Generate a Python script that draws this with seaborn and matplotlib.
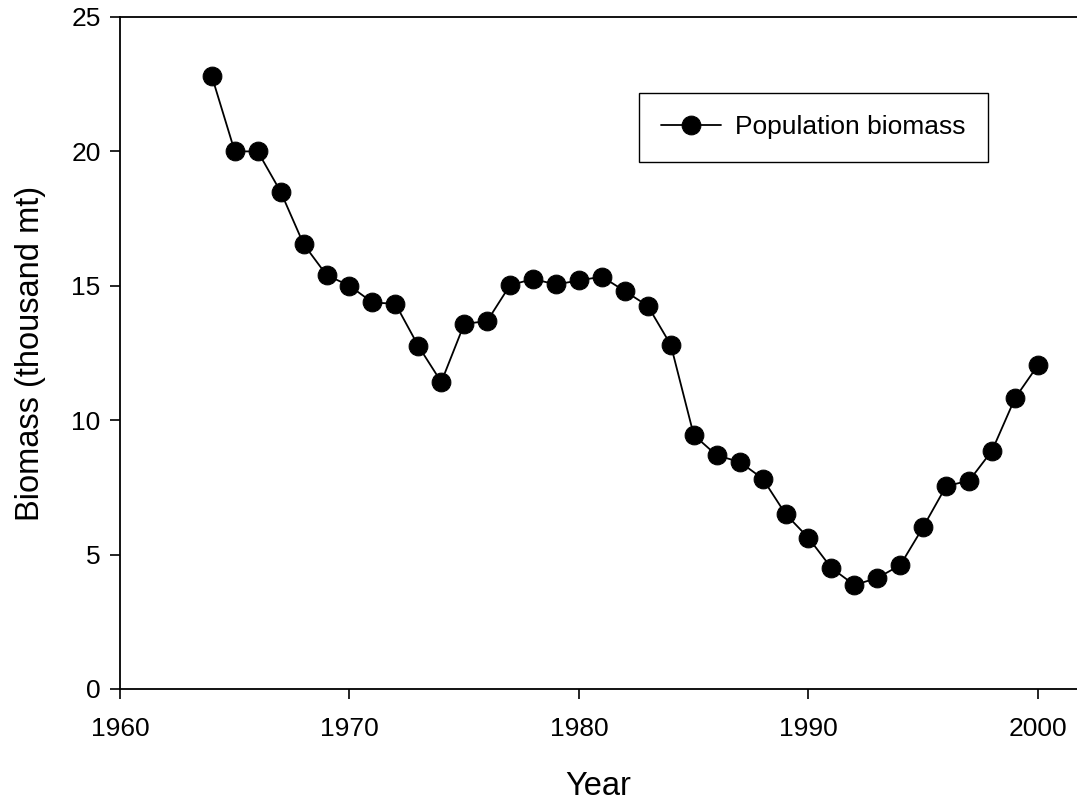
import matplotlib
matplotlib.use("Agg")
import matplotlib.pyplot as plt
import pandas as pd
import seaborn as sns

# --- data ---
years = list(range(1964, 2001))
biomass = [
    22.8, 20.0, 20.0, 18.5, 16.55, 15.4, 15.0, 14.38, 14.33, 12.76,
    11.42, 13.58, 13.69, 15.03, 15.25, 15.05, 15.2, 15.34, 14.8, 14.25,
    12.8, 9.45, 8.69, 8.45, 7.83, 6.51, 5.62, 4.5, 3.87, 4.13,
    4.61, 6.03, 7.55, 7.75, 8.87, 10.82, 12.05,
]
series_name = "Population biomass"

df = pd.DataFrame({"Year": years, "Biomass": biomass, "series": series_name})

sns.set_theme(style="ticks")
plt.rcParams["font.family"] = ["Liberation Sans", "DejaVu Sans"]
plt.rcParams["text.color"] = "black"
plt.rcParams["axes.labelcolor"] = "black"

fig = plt.figure(figsize=(10.77, 8.02), dpi=100)
ax = fig.add_axes([120 / 1077, 113 / 802, 957 / 1077, 672 / 802])

sns.lineplot(
    data=df, x="Year", y="Biomass", hue="series", palette=["black"],
    marker="o", markersize=13.5, markeredgecolor="black", linewidth=1.3,
    ax=ax, legend=False,
)

# right spine falls outside the picture in the original, so run the axis off the edge
ax.set_xlim(1960, 1960 + 957 / 22.95)
ax.set_ylim(0, 25)
ax.set_xticks([1960, 1970, 1980, 1990, 2000])
ax.set_yticks([0, 5, 10, 15, 20, 25])
ax.tick_params(axis="both", direction="out", length=7, width=1.2,
               labelsize=19, colors="black")
ax.tick_params(axis="x", pad=13)
ax.tick_params(axis="y", pad=7)
for side in ["left", "bottom", "top"]:
    ax.spines[side].set_linewidth(1.3)
    ax.spines[side].set_color("black")
ax.spines["right"].set_visible(False)

ax.set_xlabel("Year", fontsize=23.5, labelpad=22)
ax.set_ylabel("Biomass (thousand mt)", fontsize=23.5, labelpad=18)

handles = ax.get_lines()[:1]
leg = ax.legend(
    handles, [series_name], loc="upper left",
    bbox_to_anchor=(639 / 1077, 1 - 93 / 802), bbox_transform=fig.transFigure,
    fontsize=19, frameon=True, fancybox=False, edgecolor="black",
    framealpha=1, handlelength=2.25, borderpad=0.85, handletextpad=0.55,
    borderaxespad=0,
)
leg.get_frame().set_linewidth(1.0)

fig.savefig("out.png", dpi=100)
